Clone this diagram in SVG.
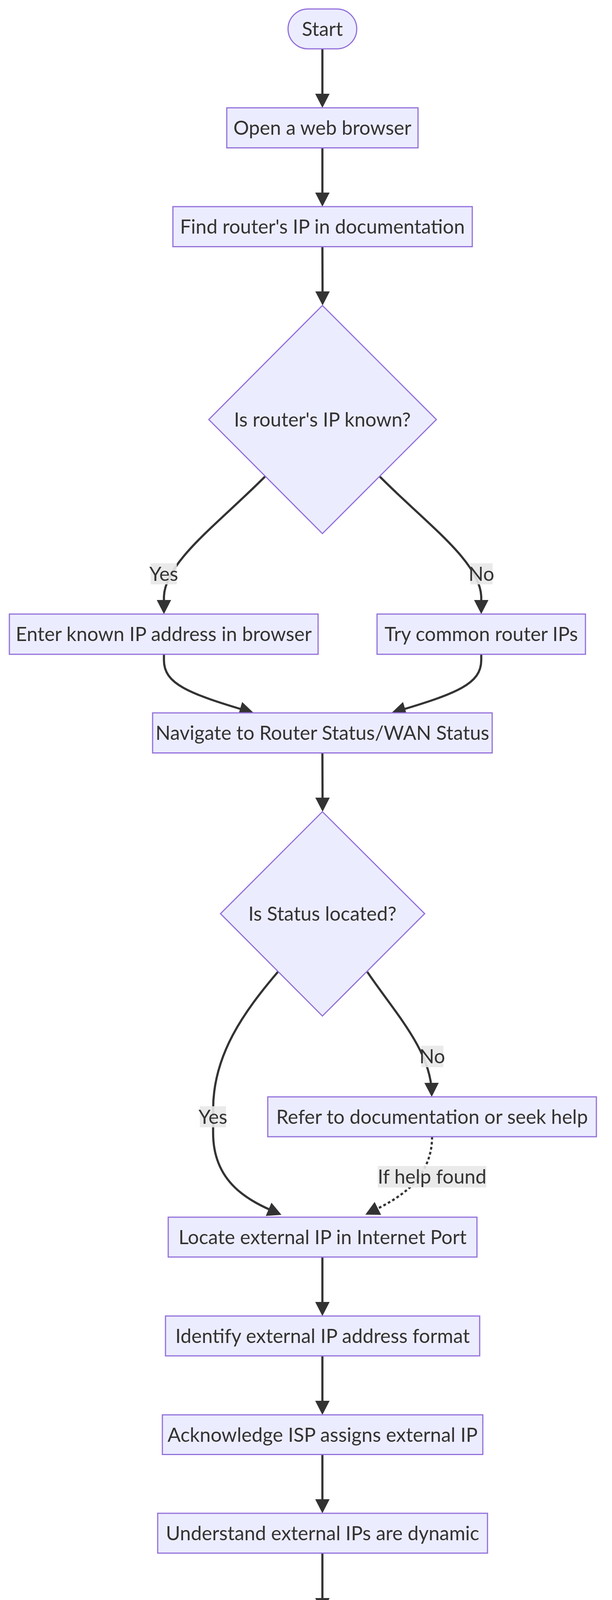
<svg xmlns="http://www.w3.org/2000/svg" width="1568" height="4554" viewBox="0 0 1568 4554">
<style>
.node rect, .node polygon { fill: #ECECFF; stroke: #9370DB; stroke-width: 3; }
.t { font-family: Lato, "Liberation Sans", sans-serif; font-size: 50px; fill: #333333; text-anchor: middle; }
.edge { fill: none; stroke: #333333; stroke-width: 5.5; }
.dotted { stroke-dasharray: 7 6; }
.lbl rect { fill: #e8e8e8; fill-opacity: 0.9; }
</style>
<defs>
<marker id="arrow" viewBox="0 0 36 37" refX="26" refY="18.5" markerWidth="36" markerHeight="37" markerUnits="userSpaceOnUse" orient="auto">
<path d="M0,0 L36,18.5 L0,37 z" fill="#333333"/>
</marker>
</defs>
<rect x="0" y="0" width="1568" height="4554" fill="#ffffff"/>
<g id="connectors">
<path class="edge" d="M826,125 L826,266" marker-end="url(#arrow)"/>
<path class="edge" d="M826,378.5 L826,519" marker-end="url(#arrow)"/>
<path class="edge" d="M826,631.5 L826.5,772" marker-end="url(#arrow)"/>
<path class="edge" d="M680,1219 C560,1340 420,1440 420,1530 L420,1562" marker-end="url(#arrow)"/>
<path class="edge" d="M972,1219 C1092,1340 1233,1440 1233,1530 L1233,1562" marker-end="url(#arrow)"/>
<path class="edge" d="M420,1675 L420,1690 C420,1750 480,1775 640,1822" marker-end="url(#arrow)"/>
<path class="edge" d="M1233,1675 L1233,1690 C1233,1750 1173,1775 1013,1822" marker-end="url(#arrow)"/>
<path class="edge" d="M826,1927.5 L826.5,2068" marker-end="url(#arrow)"/>
<path class="edge" d="M712,2488 C625,2590 546,2700 546,2840 L546,2900 C546,3030 640,3075 712,3106" marker-end="url(#arrow)"/>
<path class="edge" d="M941,2488 C1010,2590 1105,2690 1106,2798" marker-end="url(#arrow)"/>
<path class="edge dotted" d="M1107,2910 C1107,2970 1080,3010 1050,3040 C1010,3075 975,3090 945,3105" marker-end="url(#arrow)"/>
<path class="edge" d="M826,3218 L826,3359" marker-end="url(#arrow)"/>
<path class="edge" d="M826,3471 L826,3612" marker-end="url(#arrow)"/>
<path class="edge" d="M826,3723.5 L826,3864" marker-end="url(#arrow)"/>
<path class="edge" d="M826,3976 L826,4117" marker-end="url(#arrow)"/>
<path class="edge" d="M826,4229 L826,4370.5" marker-end="url(#arrow)"/>
<g class="lbl">
<rect x="386" y="1442" width="67" height="54"/><text class="t" x="419.5" y="1487">Yes</text>
<rect x="1205" y="1442" width="57" height="54"/><text class="t" x="1233.5" y="1487">No</text>
<rect x="1079" y="2677" width="57" height="55"/><text class="t" x="1107.5" y="2722">No</text>
<rect x="512" y="2832" width="67" height="54"/><text class="t" x="545.5" y="2877">Yes</text>
<rect x="968" y="2985" width="278" height="55"/><text class="t" x="1107" y="3030">If help found</text>
</g>
</g>
<g id="n-start" class="node"><rect x="738" y="23" width="176" height="102" rx="51" ry="51"/><text class="t" x="826" y="92">Start</text></g>
<g id="n-open" class="node"><rect x="581" y="276" width="490" height="102.5"/><text class="t" x="826" y="345">Open a web browser</text></g>
<g id="n-find" class="node"><rect x="443" y="529" width="767" height="102.5"/><text class="t" x="826" y="598">Find router's IP in documentation</text></g>
<g id="n-dec1" class="node"><polygon points="826,782 1118,1074 826,1366 535,1074"/><text class="t" x="826" y="1092">Is router's IP known?</text></g>
<g id="n-enter" class="node"><rect x="24" y="1572" width="791" height="103"/><text class="t" x="419.5" y="1641">Enter known IP address in browser</text></g>
<g id="n-try" class="node"><rect x="966" y="1572" width="534" height="103"/><text class="t" x="1233" y="1641">Try common router IPs</text></g>
<g id="n-nav" class="node"><rect x="391" y="1825" width="870" height="102.5"/><text class="t" x="826" y="1894">Navigate to Router Status/WAN Status</text></g>
<g id="n-dec2" class="node"><polygon points="826,2078 1088,2339 826,2601 565,2339"/><text class="t" x="826" y="2357">Is Status located?</text></g>
<g id="n-refer" class="node"><rect x="686" y="2808" width="842" height="102"/><text class="t" x="1107" y="2877">Refer to documentation or seek help</text></g>
<g id="n-locate" class="node"><rect x="431" y="3116" width="791" height="102"/><text class="t" x="826.5" y="3185">Locate external IP in Internet Port</text></g>
<g id="n-identify" class="node"><rect x="424" y="3369" width="805" height="102"/><text class="t" x="826.5" y="3438">Identify external IP address format</text></g>
<g id="n-ack" class="node"><rect x="416" y="3622" width="821" height="101.5"/><text class="t" x="826.5" y="3691">Acknowledge ISP assigns external IP</text></g>
<g id="n-understand" class="node"><rect x="404" y="3874" width="845" height="102"/><text class="t" x="826.5" y="3943">Understand external IPs are dynamic</text></g>
<g id="n-recognize" class="node"><rect x="360" y="4127" width="933" height="102"/><text class="t" x="826.5" y="4196">Recognize IP can be masked with proxies</text></g>
<g id="n-end" class="node"><rect x="751" y="4380.5" width="150" height="101" rx="50.5" ry="50.5"/><text class="t" x="826" y="4449">End</text></g>
</svg>
